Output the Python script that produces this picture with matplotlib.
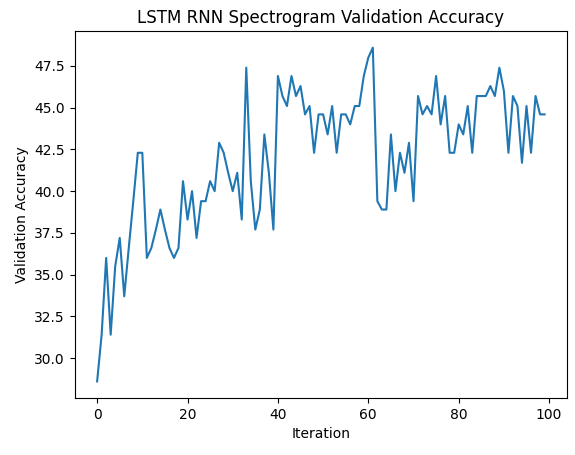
import numpy as np
import matplotlib
matplotlib.use('Agg')
import matplotlib.pyplot as plt

accuracy = [28.6, 31.4, 36.0, 31.4, 35.5, 37.2, 33.7, 36.6, 39.4, 42.3,
            42.3, 36.0, 36.6, 37.7, 38.9, 37.7, 36.6, 36.0, 36.6, 40.6,
            38.3, 40.0, 37.2, 39.4, 39.4, 40.6, 40.0, 42.9, 42.3, 41.1,
            40.0, 41.1, 38.3, 47.4, 40.6, 37.7, 38.9, 43.4, 41.1, 37.7,
            46.9, 45.7, 45.1, 46.9, 45.7, 46.3, 44.6, 45.1, 42.3, 44.6,
            44.6, 43.4, 45.1, 42.3, 44.6, 44.6, 44.0, 45.1, 45.1, 46.9,
            48.0, 48.6, 39.4, 38.9, 38.9, 43.4, 40.0, 42.3, 41.1, 42.9,
            39.4, 45.7, 44.6, 45.1, 44.6, 46.9, 44.0, 45.7, 42.3, 42.3,
            44.0, 43.4, 45.1, 42.3, 45.7, 45.7, 45.7, 46.3, 45.7, 47.4,
            46.0, 42.3, 45.7, 45.1, 41.7, 45.1, 42.3, 45.7, 44.6, 44.6]
iterations = np.arange(len(accuracy))

fig = plt.figure(figsize=(5.75, 4.55), dpi=100)
plt.subplots_adjust(left=0.13, right=0.986, top=0.932, bottom=0.125)
ax = plt.gca()
ax.plot(iterations, accuracy)
ax.set_xlabel('Iteration')
ax.set_ylabel('Validation Accuracy')
ax.set_title('LSTM RNN Spectrogram Validation Accuracy')
plt.savefig('out.png')
